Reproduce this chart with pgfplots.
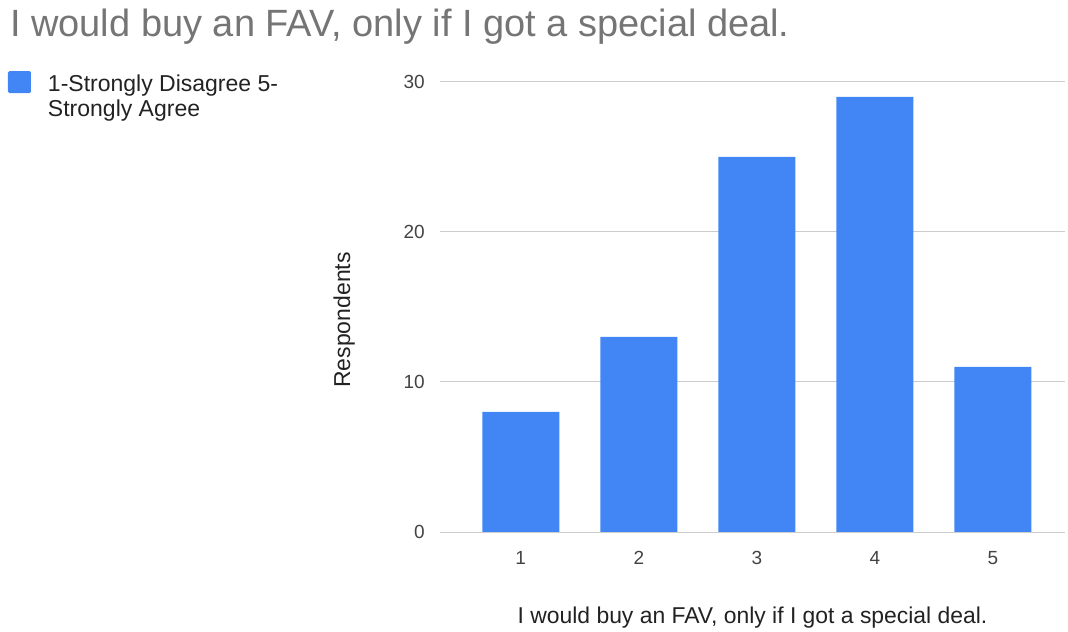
\documentclass[border=0pt]{standalone}
\usepackage{fontspec}
\setmainfont{Liberation Sans}
\usepackage{pgfplots}
\pgfplotsset{compat=1.18}
\definecolor{barblue}{HTML}{4285F4}
\definecolor{titlegray}{HTML}{757575}
\definecolor{txt}{HTML}{222222}
\definecolor{gridc}{HTML}{CCCCCC}
\begin{document}
\begin{tikzpicture}
\path[use as bounding box] (0,0) rectangle (1068bp,632bp);
\node[anchor=base west, inner sep=0pt, text=titlegray, font=\fontsize{38bp}{44bp}\selectfont] at (10bp,595bp) {I would buy an FAV, only if I got a special deal.};
\begin{axis}[
  at={(440bp,100bp)}, anchor=south west,
  scale only axis, width=625bp, height=450bp,
  xmin=0.316, xmax=5.61, ymin=0, ymax=30,
  xtick={1,2,3,4,5}, ytick={0,10,20,30},
  major tick length=0pt,
  axis line style={draw=none},
  ymajorgrids, major grid style={draw=gridc, line width=1bp},
  extra y ticks={0}, extra y tick labels={},
  extra y tick style={grid style={draw=black!80, line width=1.3bp}},
  /pgf/number format/assume math mode=true,
  ticklabel style={font=\fontsize{19bp}{22bp}\selectfont, text=txt!85},
  yticklabel style={anchor=east, inner sep=0pt, xshift=-15bp},
  xticklabel style={anchor=north, inner sep=0pt, yshift=-19bp},
  xlabel={I would buy an FAV, only if I got a special deal.},
  xlabel style={at={(axis description cs:0.5,0)}, anchor=north, inner sep=0pt, yshift=-75bp, font=\fontsize{22.9bp}{26bp}\selectfont, text=txt},
  ylabel={Respondents},
  ylabel style={at={(axis description cs:-0.136,0.471)}, rotate=0, anchor=south, inner sep=0pt, font=\fontsize{23bp}{26bp}\selectfont, text=txt},
  legend style={at={(axis description cs:-0.6912,1.0244)}, anchor=north west, draw=none, fill=none, inner sep=0pt, outer sep=0pt,
    font=\fontsize{23bp}{25bp}\selectfont, text=txt, cells={align=left, anchor=west}, nodes={inner sep=0pt}},
]
\addplot[ybar, bar width=77bp, fill=barblue, draw=none,
  legend image code/.code={\fill[barblue, draw=none, rounded corners=1.5bp] (0bp,3.5bp) rectangle (23bp,25.5bp); \path[draw=none, fill=none] (0,0) rectangle (40bp,1bp);}]
  coordinates {(1,8) (2,13) (3,25) (4,29) (5,11)};
\addlegendentry{1-Strongly Disagree 5-\\Strongly Agree}
\end{axis}
\end{tikzpicture}
\end{document}
